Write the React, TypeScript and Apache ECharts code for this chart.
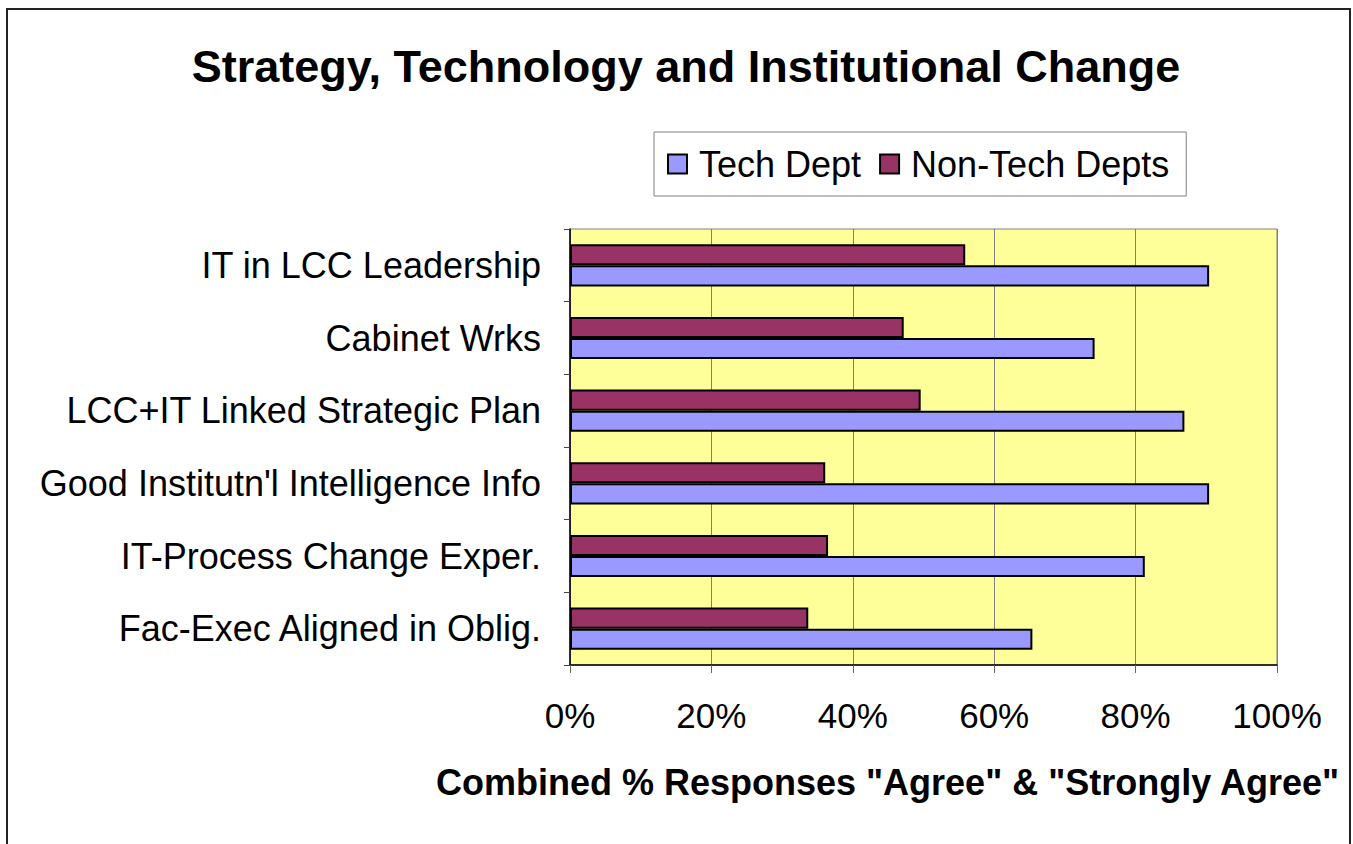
import React, { useEffect, useRef } from "react";
import * as echarts from "echarts";

const categories = [
  "Fac-Exec Aligned in Oblig.",
  "IT-Process Change Exper.",
  "Good Institutn'l Intelligence Info",
  "LCC+IT Linked Strategic Plan",
  "Cabinet Wrks",
  "IT in LCC Leadership",
];
const techDept = [65.4, 81.3, 90.4, 86.9, 74.2, 90.4];
const nonTechDepts = [33.7, 36.5, 36.1, 49.6, 47.2, 55.9];
const seriesNames = ["Tech Dept", "Non-Tech Depts"];
const titleText = "Strategy, Technology and Institutional Change";
const xAxisTitle = 'Combined % Responses "Agree" & "Strongly Agree"';

const FONT = "Liberation Sans, Arial, sans-serif";

export default function App() {
  const ref = useRef<HTMLDivElement>(null);
  useEffect(() => {
    if (!ref.current) return;
    const chart = echarts.init(ref.current, null, { renderer: "svg" });
    chart.setOption({
      animation: false,
      backgroundColor: "#ffffff",
      title: {
        text: titleText,
        left: 681,
        top: 39,
        textAlign: "center",
        textStyle: { fontFamily: FONT, fontSize: 45, fontWeight: "bold", color: "#000" },
      },
      legend: {
        data: seriesNames,
        left: 654,
        top: 132,
        padding: [14, 17, 14, 13],
        borderColor: "#808080",
        borderWidth: 1,
        itemWidth: 19,
        itemHeight: 19,
        itemGap: 18,
        icon: "rect",
        textStyle: { fontFamily: FONT, fontSize: 36, color: "#000", padding: [0, 0, 0, 7] },
      },
      graphic: [
        {
          type: "rect",
          shape: { x: 7, y: 9, width: 1343, height: 900 },
          style: { fill: "none", stroke: "#222", lineWidth: 2 },
          silent: true,
        },
      ],
      grid: {
        left: 570,
        right: 76,
        top: 229,
        bottom: 179,
        show: true,
        backgroundColor: "#FFFF99",
        borderColor: "#808080",
        borderWidth: 1,
      },
      xAxis: {
        type: "value",
        min: 0,
        max: 100,
        interval: 20,
        name: xAxisTitle,
        nameLocation: "middle",
        nameGap: 99,
        nameTextStyle: {
          fontFamily: FONT,
          fontSize: 36,
          fontWeight: "bold",
          color: "#000",
          padding: [0, 72, 0, 0],
        },
        axisLine: { show: true, lineStyle: { color: "#000", width: 1.5 } },
        axisTick: { show: true, length: 8, lineStyle: { color: "#666" } },
        axisLabel: {
          formatter: "{value}%",
          margin: 33,
          fontFamily: FONT,
          fontSize: 35,
          color: "#000",
        },
        splitLine: { show: true, lineStyle: { color: "#808080", width: 1 } },
      },
      yAxis: {
        type: "category",
        data: categories,
        axisLine: { show: true, lineStyle: { color: "#000", width: 1.5 } },
        axisTick: { show: true, length: 6, lineStyle: { color: "#444" } },
        axisLabel: { margin: 29, fontFamily: FONT, fontSize: 36, color: "#000" },
        splitLine: { show: false },
      },
      series: [
        {
          name: seriesNames[1],
          type: "bar",
          data: nonTechDepts,
          barGap: "0%",
          barCategoryGap: "42%",
          itemStyle: { color: "#993366", borderColor: "#000", borderWidth: 2 },
        },
        {
          name: seriesNames[0],
          type: "bar",
          data: techDept,
          barGap: "0%",
          barCategoryGap: "42%",
          itemStyle: { color: "#9999FF", borderColor: "#000", borderWidth: 2 },
        },
      ],
    });
    return () => chart.dispose();
  }, []);
  return (
    <div
      ref={ref}
      style={{ position: "fixed", left: 0, top: 0, width: 1353, height: 844 }}
    />
  );
}
